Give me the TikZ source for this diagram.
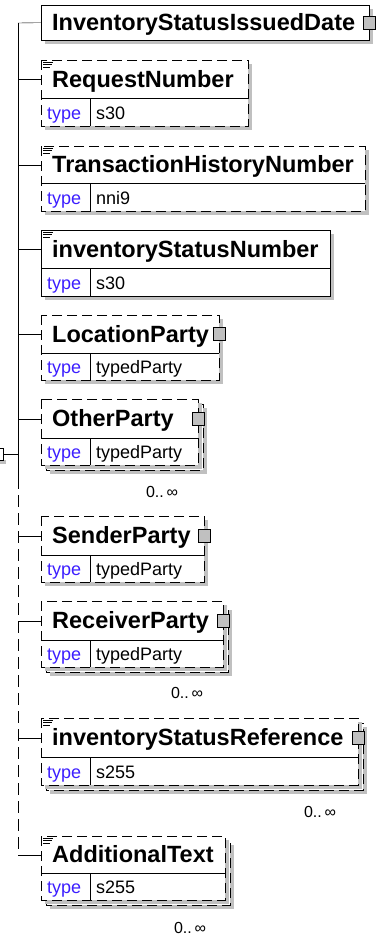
\documentclass[tikz,border=0pt]{standalone}
\usepackage{fontspec}
\usepackage{xcolor}
\usepackage{tikz}
\usetikzlibrary{calc}
\usetikzlibrary{positioning}
\newfontfamily\xsdfont{Liberation Sans}
\definecolor{typeblue}{RGB}{60,30,255}
\definecolor{shadowgray}{RGB}{192,192,192}
\definecolor{icongray}{RGB}{192,192,192}
\tikzset{line width=1.4pt}
\tikzset{dashbox/.style={dash pattern=on 10pt off 5pt}}
\tikzset{solidbox/.style={solid}}
\tikzset{shade/.style={fill=shadowgray, draw=none}}
\tikzset{titlerow/.style={rectangle, draw=none, anchor=north west, inner sep=0pt}}
\tikzset{titletext/.style={anchor=west, xshift=11pt, inner sep=0pt, text height=16.5pt, text depth=0pt, font=\xsdfont\bfseries\fontsize{23.5}{24}\selectfont}}
\tikzset{typekey/.style={anchor=west, inner sep=0pt, text height=12.5pt, text depth=0pt, text=typeblue, font=\xsdfont\fontsize{18}{20}\selectfont}}
\tikzset{typeval/.style={anchor=west, inner sep=0pt, text height=12.5pt, text depth=0pt, font=\xsdfont\fontsize{18}{20}\selectfont}}
\tikzset{occurs/.style={inner sep=0pt, font=\xsdfont\fontsize{16}{18}\selectfont}}
\tikzset{cplx/.style={rectangle, draw, fill=icongray, minimum width=12pt, minimum height=13pt, inner sep=0pt, line width=1.2pt}}
\tikzset{seqbox/.style={rectangle, draw, fill=white, minimum width=8pt, minimum height=12pt, inner sep=0pt}}
\newcommand{\xelem}[8]{%
  \fill[shade] (45,#2+4) rectangle (#3+4,#5+4);
  \draw[#6, fill=white] (41,#2) rectangle (#3,#5);
  \node[titlerow, minimum width=#3-41, minimum height=#4-#2] (#1) at (41,#2) {};
  \node[titletext] at (#1.west) {#7};
  \draw (41,#4) -- (#3,#4);
  \draw (90,#4) -- (90,#5);
  \node[typekey] at (47,{(#4+#5)/2+1}) {type};
  \node[typeval] at (96,{(#4+#5)/2+1}) {#8};
}
\newcommand{\xback}[4]{%
  \fill[shade] (50,#2+9) rectangle (#3+9,#4+9);
  \draw[dashbox, fill=white] (46,#2+5) rectangle (#3+5,#4+5);
}
\newcommand{\xdoc}[2]{%
  \draw[line width=1pt] (43,#2+2) -- ++(10,0) (43,#2+4.5) -- ++(9,0) (43,#2+7) -- ++(7,0);
}

\begin{document}
\begin{tikzpicture}[x=1pt, y=-1pt]
\useasboundingbox (0,0) rectangle (377,937);

\fill[shade] (45,9) rectangle (373,44);
\draw[fill=white] (41,5) rectangle (369,40);
\node[titlerow, minimum width=328, minimum height=35] (isid) at (41,5) {};
\node[titletext] at (isid.west) {InventoryStatusIssuedDate};
\node[cplx] at (isid.east) {};

\xelem{rn}{60}{248}{98}{126}{dashbox}{RequestNumber}{s30}
\xdoc{rn}{60}

\xelem{thn}{146}{365}{183}{211}{dashbox}{TransactionHistoryNumber}{nni9}
\xdoc{thn}{146}

\xelem{isn}{230}{330}{268}{296}{solidbox}{inventoryStatusNumber}{s30}
\xdoc{isn}{230}

\xelem{lp}{315}{219}{353}{380}{dashbox}{LocationParty}{typedParty}
\node[cplx] at (lp.east) {};

\xback{op}{399}{198}{465}
\xelem{op}{399}{198}{438}{465}{dashbox}{OtherParty}{typedParty}
\node[cplx] at (op.east) {};
\node[occurs] (opocc) at (162,492) {0..\,∞};

\xelem{sp}{516}{204}{555}{582}{dashbox}{SenderParty}{typedParty}
\node[cplx] at (sp.east) {};

\xback{rp}{601}{223}{667}
\xelem{rp}{601}{223}{640}{667}{dashbox}{ReceiverParty}{typedParty}
\node[cplx] at (rp.east) {};
\node[occurs] (rpocc) at (187,693) {0..\,∞};

\xback{isr}{718}{358}{785}
\xelem{isr}{718}{358}{757}{785}{dashbox}{inventoryStatusReference}{s255}
\xdoc{isr}{718}
\node[cplx] at (isr.east) {};
\node[occurs] (isrocc) at (320,812) {0..\,∞};

\xback{at}{836}{225}{900}
\xelem{at}{836}{225}{873}{900}{dashbox}{AdditionalText}{s255}
\xdoc{at}{836}
\node[occurs] (atocc) at (190,928) {0..\,∞};

\fill[shade] (-3,460) rectangle (6,464);
\node[seqbox] (seq) at (-1,454) {};
\coordinate (spt) at (18,23);
\coordinate (spm) at (18,477);
\draw (spt) -- (spm);
\draw[dash pattern=on 12pt off 6pt] (spm) -- (spt |- at.west);
\draw (spt |- at.west) -- (at.west);
\draw (seq.east) -- (spt |- seq.east);
\draw (spt) -- (isid.west);
\draw (spt |- rn.west) -- (rn.west);
\draw (spt |- thn.west) -- (thn.west);
\draw (spt |- isn.west) -- (isn.west);
\draw (spt |- lp.west) -- (lp.west);
\draw (spt |- op.west) -- (op.west);
\draw (spt |- sp.west) -- (sp.west);
\draw (spt |- rp.west) -- (rp.west);
\draw (spt |- isr.west) -- (isr.west);
\end{tikzpicture}
\end{document}
